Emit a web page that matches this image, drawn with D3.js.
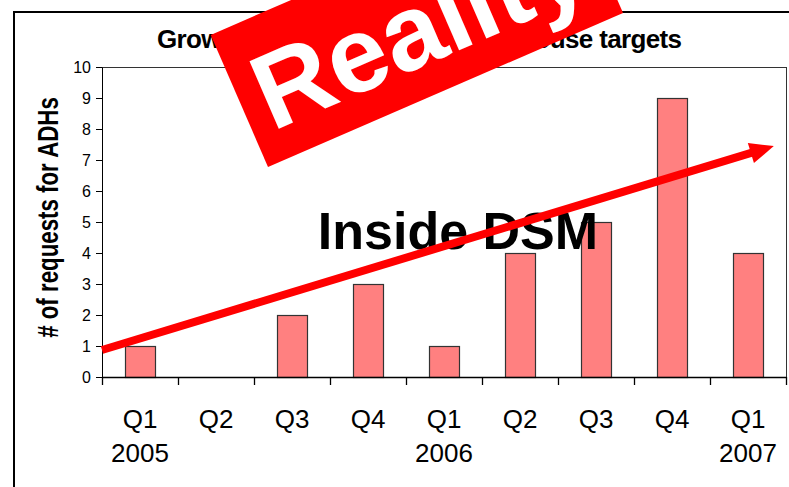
<!DOCTYPE html>
<html>
<head>
<meta charset="utf-8">
<script src="https://cdn.jsdelivr.net/npm/d3@7"></script>
<style>
  html, body { margin: 0; padding: 0; background: #fff; }
  svg { display: block; }
  text { font-family: Arial, "Liberation Sans", sans-serif; }
</style>
</head>
<body>
<svg id="chart" width="789" height="487"></svg>
<script>
// ---- data ----
const quarters = ["Q1", "Q2", "Q3", "Q4", "Q1", "Q2", "Q3", "Q4", "Q1"];
const years    = ["2005", "", "", "", "2006", "", "", "", "2007"];
const requests = [1, 0, 2, 3, 1, 4, 5, 9, 4];
const yTicks   = [0, 1, 2, 3, 4, 5, 6, 7, 8, 9, 10];
const titleText  = "Growth of ADH requests for in-house targets";
const yTitleText = "# of requests for ADHs";
const noteText   = "Inside DSM";
const stampText  = "Reality";
// trend arrow in (category-position, value) space
const arrowStart = [0, 0.87];
const arrowTip   = [8.84, 7.45];

(function () {
// ---- layout ----
const svg = d3.select("#chart");
const pl = 102, pr = 786, pt = 67, pb = 377;

const x = d3.scaleBand().domain(d3.range(quarters.length)).range([pl, pr]).padding(0);
const xl = d3.scaleLinear().domain([0, quarters.length]).range([pl, pr]);
const y = d3.scaleLinear().domain([0, 10]).range([pb, pt]);

svg.append("rect").attr("width", 789).attr("height", 487).attr("fill", "#fff");

// outer frame (left + top edges visible)
svg.append("path")
  .attr("d", "M14,487 L14,12 L789,12")
  .attr("fill", "none").attr("stroke", "#000").attr("stroke-width", 2);

// plot area border
svg.append("rect")
  .attr("x", pl + 0.5).attr("y", pt + 0.5)
  .attr("width", pr - pl).attr("height", pb - pt)
  .attr("fill", "#fff").attr("stroke", "#333").attr("stroke-width", 1);

// bars
const bw = x.bandwidth() * 0.4;
svg.append("g").selectAll("rect")
  .data(requests)
  .join("rect")
  .attr("x", (d, i) => Math.round(x(i) + (x.bandwidth() - bw) / 2) + 0.5)
  .attr("y", d => Math.round(y(d)) + 0.5)
  .attr("width", Math.round(bw))
  .attr("height", d => Math.round(y(0)) - Math.round(y(d)))
  .attr("fill", "#FF8080")
  .attr("stroke", "#333")
  .attr("stroke-width", 1.2);

// y axis
const yAxis = svg.append("g")
  .attr("transform", `translate(${pl},0)`)
  .call(d3.axisLeft(y).tickValues(yTicks).tickSize(6).tickSizeOuter(0).tickPadding(5));
yAxis.selectAll("text").attr("font-size", 16).attr("fill", "#000")
  .style("font-family", "Arial, 'Liberation Sans', sans-serif");
yAxis.selectAll("line, path").attr("stroke", "#000");

// x axis (ticks at category boundaries)
const xAxis = svg.append("g")
  .attr("transform", `translate(0,${pb})`)
  .call(d3.axisBottom(xl).tickValues(d3.range(quarters.length + 1)).tickFormat("").tickSize(8).tickSizeOuter(0));
xAxis.selectAll("line, path").attr("stroke", "#000").attr("stroke-width", 1.3);

// category labels
svg.append("g").selectAll("text")
  .data(quarters)
  .join("text")
  .attr("x", (d, i) => x(i) + x.bandwidth() / 2)
  .attr("y", 428)
  .attr("text-anchor", "middle")
  .attr("font-size", 26)
  .attr("fill", "#000")
  .text(d => d);
svg.append("g").selectAll("text")
  .data(years)
  .join("text")
  .attr("x", (d, i) => x(i) + x.bandwidth() / 2)
  .attr("y", 462)
  .attr("text-anchor", "middle")
  .attr("font-size", 26)
  .attr("fill", "#000")
  .text(d => d);

// title
svg.append("text")
  .attr("x", 157).attr("y", 48)
  .attr("textLength", 525).attr("lengthAdjust", "spacing")
  .attr("font-size", 26).attr("font-weight", "bold").attr("fill", "#000")
  .text(titleText);

// y axis title (rendered stretched like the original)
svg.append("text")
  .attr("transform", "translate(47.5,217.5) scale(1.35,1) rotate(-90)")
  .attr("text-anchor", "middle").attr("dy", "0.35em")
  .attr("font-size", 22.3).attr("font-weight", "bold").attr("fill", "#000")
  .text(yTitleText);

// "Inside DSM" annotation
svg.append("text")
  .attr("x", 458).attr("y", 249)
  .attr("text-anchor", "middle")
  .attr("font-size", 52).attr("font-weight", "bold").attr("fill", "#000")
  .text(noteText);

// trend arrow
const p0 = [xl(arrowStart[0]), y(arrowStart[1])];
const p1 = [xl(arrowTip[0]), y(arrowTip[1])];
const dx = p1[0] - p0[0], dy = p1[1] - p0[1];
const len = Math.hypot(dx, dy);
const ux = dx / len, uy = dy / len;
const headLen = 24, headHalf = 10.5;
const base = [p1[0] - ux * headLen, p1[1] - uy * headLen];
svg.append("line")
  .attr("x1", p0[0]).attr("y1", p0[1])
  .attr("x2", base[0] + ux * 2).attr("y2", base[1] + uy * 2)
  .attr("stroke", "#FF0000").attr("stroke-width", 8);
svg.append("path")
  .attr("d", `M${p1[0]},${p1[1]} L${base[0] - uy * headHalf},${base[1] + ux * headHalf} L${base[0] + uy * headHalf},${base[1] - ux * headHalf} Z`)
  .attr("fill", "#FF0000");

// "Reality" stamp
const stamp = svg.append("g").attr("transform", "translate(268,167) rotate(-23.45)");
stamp.append("rect")
  .attr("x", 0).attr("y", -144).attr("width", 387).attr("height", 144)
  .attr("fill", "#FF0000");
stamp.append("text")
  .attr("x", 193.5).attr("y", -31)
  .attr("text-anchor", "middle")
  .attr("font-size", 107).attr("font-weight", "bold").attr("fill", "#fff")
  .text(stampText);
})();
</script>
</body>
</html>
